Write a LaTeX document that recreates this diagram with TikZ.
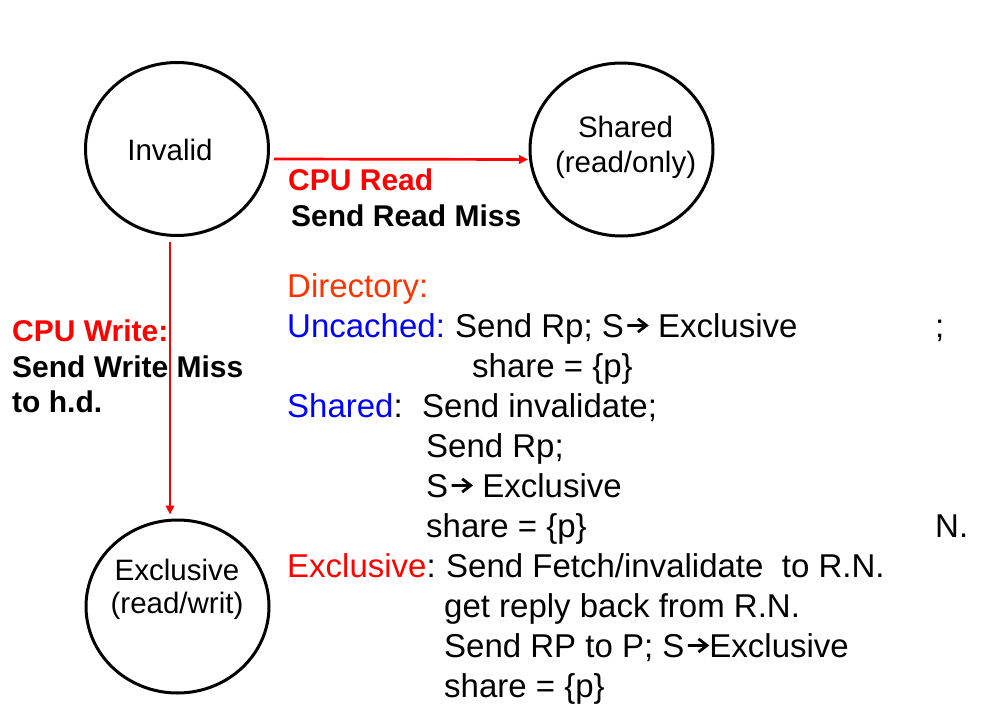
\documentclass[tikz,border=0pt]{standalone}
\usepackage{fontspec}
\setmainfont{Liberation Sans}
\usetikzlibrary{shapes.geometric,arrows.meta,calc}
\definecolor{cred}{HTML}{FF0000}
\definecolor{corange}{HTML}{FF3300}
\definecolor{cblue}{HTML}{0000FF}
\newcommand{\rarr}{\hspace{2pt}\tikz[baseline=0pt,x=33pt,y=33pt]{\path (0,0) (0.62,0);\draw[line width=2.8pt,line cap=butt,line join=miter] (0,0.35) -- (0.58,0.35) (0.32,0.15) -- (0.58,0.35) -- (0.32,0.55);}\hspace{1pt}}
\begin{document}
\begin{tikzpicture}[x=1pt,y=-1pt,
  state/.style={draw,line width=3pt,ellipse,minimum width=183pt,minimum height=173pt,inner sep=0pt},
  stext/.style={anchor=base,inner sep=0pt,font=\fontsize{29.5}{34}\selectfont},
  lbl/.style={anchor=base west,inner sep=0pt,font=\fontsize{30}{36}\selectfont\bfseries},
  dir/.style={anchor=base west,inner sep=0pt,font=\fontsize{33}{40}\selectfont},
  arr/.style={draw=cred,line width=2.7pt,-{Triangle[length=9pt,width=8.5pt]}}]
\useasboundingbox (0,0) rectangle (997,712);
% states
\node[state] (invalid) at (177,149) {};
\node[state] (shared) at (621.5,149.5) {};
\node[state] (excl) at (177.5,606.5) {};
\node[stext] (invalidtxt) at (170,160) {Invalid};
\node[stext] (sharedtxt) at (625.6,137) {Shared};
\node[stext] (sharedsub) at (625.6,172) {(read/only)};
\node[stext] (excltxt) at (177,580) {Exclusive};
\node[stext] (exclsub) at (177,613) {(read/writ)};
% transitions
\draw[arr] ($(invalid.east)+(4,10)$) -- ($(shared.west)+(-0.5,10)$);
\draw[arr] ($(invalid.south)+(-7,5)$) -- ($(excl.north)+(-7.5,-4)$);
% transition labels
\node[lbl,text=cred] (cpuread) at (288,190) {CPU Read};
\node[lbl] (sendread) at (291,226) {Send Read Miss};
\node[lbl,text=cred] (cpuwrite) at (12,341) {CPU Write:};
\node[lbl] (sendwrite) at (12,377) {Send Write Miss};
\node[lbl] (tohd) at (12,412) {to h.d.};
% directory text
\node[dir,text=corange] (d0) at (287,297) {Directory:};
\node[dir,text=cblue] (d1a) at (287,337) {Uncached:};
\node[dir] (d1b) at (455,337) {Send Rp; S\rarr{} Exclusive};
\node[dir] (d1c) at (935,337) {;};
\node[dir] (d2) at (472,377) {share = \{p\}};
\node[dir] (d3a) at (287,417) {\textcolor{cblue}{Shared}:};
\node[dir] (d3b) at (422,417) {Send invalidate;};
\node[dir] (d4) at (426,457) {Send Rp;};
\node[dir] (d5) at (426,497) {S\rarr{} Exclusive};
\node[dir] (d6) at (426,537) {share = \{p\}};
\node[dir] (d6b) at (935,537) {N.};
\node[dir] (d7a) at (287,577) {\textcolor{cred}{Exclusive}:};
\node[dir] (d7b) at (446,577) {Send Fetch/invalidate\ \ to R.N.};
\node[dir] (d8) at (444,617) {get reply back from R.N.};
\node[dir] (d9) at (444,657) {Send RP to P; S\rarr{}Exclusive};
\node[dir] (d10) at (444,697) {share = \{p\}};
\end{tikzpicture}
\end{document}
